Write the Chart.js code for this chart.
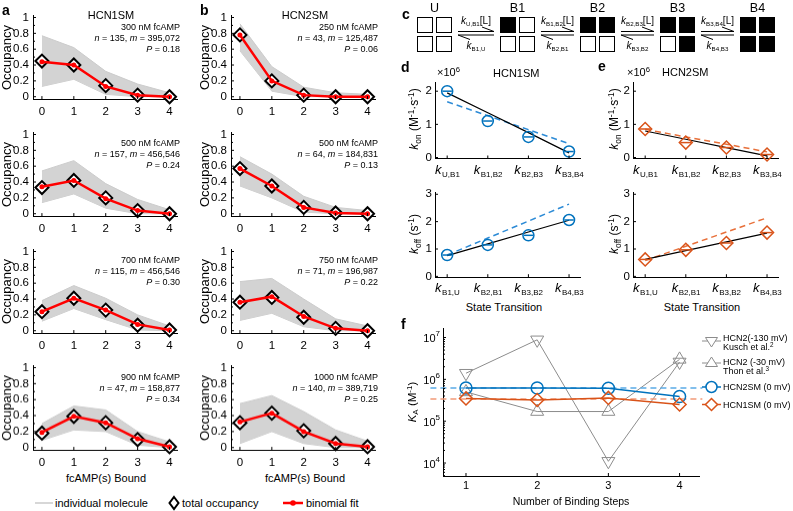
<!DOCTYPE html>
<html>
<head>
<meta charset="utf-8">
<title>HCN fcAMP binding</title>
<script src="https://cdn.jsdelivr.net/npm/chart.js@4.4.1/dist/chart.umd.min.js"></script>
<style>
  body { margin: 0; background: #fff; }
  #fig { position: relative; width: 793px; height: 511px; overflow: hidden;
         font-family: 'Liberation Sans', Arial, Helvetica, sans-serif; color: #000; }
  .box { position: absolute; }
  .t { position: absolute; white-space: nowrap; line-height: 1; }
  .t sub, .t sup { font-size: 70%; line-height: 0; position: relative; vertical-align: baseline; }
  .t sub { top: 0.3em; }
  .t sup { top: -0.5em; }
  .rk sub { font-size: 62%; }
  .lt { font-weight: bold; }
  .note { text-align: right; line-height: 11px; }
  .sq { position: absolute; width: 16px; height: 16px; border: 1px solid #000; box-sizing: border-box; background: #fff; }
  .sq.on { background: #000; }
</style>
</head>
<body>
<div id="fig"></div>
<script>
// ---------- data ----------
var bound = [0, 1, 2, 3, 4];
var occTicks = [0, 0.2, 0.4, 0.6, 0.8, 1];
var occMinor = [0.1, 0.3, 0.5, 0.7, 0.9];

// a: HCN1SM
var concA = ['300', '500', '700', '900'];
var nA = ['135', '157', '115', '47'];
var mA = ['395,072', '456,546', '456,546', '158,877'];
var pA = ['0.18', '0.24', '0.30', '0.34'];
var totalA = [[0.45, 0.40, 0.14, 0.02, 0.00], [0.33, 0.42, 0.20, 0.04, 0.00],
              [0.24, 0.41, 0.26, 0.07, 0.01], [0.18, 0.39, 0.31, 0.10, 0.01]];
var fitA = [[0.44, 0.40, 0.13, 0.02, 0.00], [0.34, 0.42, 0.19, 0.04, 0.00],
            [0.24, 0.41, 0.26, 0.08, 0.01], [0.19, 0.39, 0.31, 0.11, 0.01]];
var hiA = [[0.77, 0.62, 0.32, 0.16, 0.05], [0.54, 0.67, 0.38, 0.18, 0.05],
           [0.38, 0.57, 0.41, 0.20, 0.06], [0.30, 0.52, 0.47, 0.20, 0.07]];
var loA = [[0.13, 0.22, 0.03, 0.00, 0.00], [0.14, 0.25, 0.07, 0.00, 0.00],
           [0.12, 0.28, 0.14, 0.01, 0.00], [0.09, 0.22, 0.20, 0.03, 0.00]];

// b: HCN2SM
var concB = ['250', '500', '750', '1000'];
var nB = ['43', '64', '71', '140'];
var mB = ['125,487', '184,831', '196,987', '389,719'];
var pB = ['0.06', '0.13', '0.22', '0.25'];
var totalB = [[0.78, 0.20, 0.02, 0.00, 0.00], [0.57, 0.35, 0.08, 0.01, 0.00],
              [0.36, 0.42, 0.17, 0.03, 0.00], [0.31, 0.43, 0.21, 0.05, 0.01]];
var fitB = [[0.78, 0.20, 0.02, 0.00, 0.00], [0.57, 0.35, 0.08, 0.01, 0.00],
            [0.36, 0.43, 0.18, 0.03, 0.00], [0.32, 0.43, 0.20, 0.05, 0.01]];
var hiB = [[0.92, 0.38, 0.12, 0.05, 0.03], [0.72, 0.50, 0.22, 0.08, 0.04],
           [0.62, 0.66, 0.40, 0.15, 0.06], [0.55, 0.65, 0.45, 0.22, 0.08]];
var loB = [[0.58, 0.07, 0.00, 0.00, 0.00], [0.35, 0.20, 0.02, 0.00, 0.00],
           [0.13, 0.22, 0.05, 0.00, 0.00], [0.05, 0.20, 0.05, 0.00, 0.00]];

// c-e: rate constants
var stateNames = ['U', 'B1', 'B2', 'B3', 'B4'];
var statePattern = [[0, 0, 0, 0], [1, 0, 0, 0], [1, 1, 0, 0], [1, 1, 0, 1], [1, 1, 1, 1]];
var konLabels = ['U,B1', 'B1,B2', 'B2,B3', 'B3,B4'];
var koffLabels = ['B1,U', 'B2,B1', 'B3,B2', 'B4,B3'];
var stepIdx = [0, 1, 2, 3];
var konHCN1 = [2.00, 1.10, 0.62, 0.18];
var konHCN1Fit = [1.95, 1.35, 0.75, 0.14];
var konHCN1Dash = [1.68, 1.26, 0.84, 0.42];
var koffHCN1 = [0.78, 1.15, 1.50, 2.06];
var koffHCN1Fit = [0.76, 1.19, 1.62, 2.05];
var koffHCN1Dash = [0.78, 1.40, 2.02, 2.64];
var konHCN2 = [0.86, 0.45, 0.30, 0.09];
var konHCN2Fit = [0.80, 0.55, 0.30, 0.05];
var konHCN2Dash = [0.85, 0.62, 0.40, 0.17];
var koffHCN2 = [0.62, 0.97, 1.22, 1.60];
var koffHCN2Fit = [0.62, 0.94, 1.26, 1.58];
var koffHCN2Dash = [0.58, 1.10, 1.62, 2.14];
var konTicks = [0, 1, 2];
var koffTicks = [0, 1, 2, 3];

// f: association constants
var stepsF = [1, 2, 3, 4];
var kuschF = [1.4e6, 8.8e6, 1.1e4, 2.6e6];
var thonF = [5.0e5, 1.7e5, 1.7e5, 3.0e6];
var hcn2smF = [6.2e5, 6.2e5, 6.1e5, 3.9e5];
var hcn1smF = [3.5e5, 3.2e5, 3.6e5, 2.5e5];
var hcn2smMean = 6.2e5;
var hcn1smMean = 3.4e5;
var fDecades = [4, 5, 6, 7];

var blue = '#0072BD', orange = '#D95319', gray = '#8c8c8c';

// ---------- helpers ----------
var fig = document.getElementById('fig');
Chart.defaults.font.family = "'Liberation Sans', Arial, Helvetica, sans-serif";
Chart.defaults.color = '#000';

function put(html, x, y, o) {
  o = o || {};
  var d = document.createElement('div');
  d.className = 't ' + (o.cls || '');
  d.innerHTML = html;
  d.style.left = x + 'px';
  d.style.top = y + 'px';
  if (o.size) d.style.fontSize = o.size + 'px';
  var tx = o.ax === 'c' ? '-50%' : o.ax === 'r' ? '-100%' : '0';
  var ty = o.ay === 't' ? '0' : '-50%';
  d.style.transform = 'translate(' + tx + ',' + ty + ')' + (o.rot ? ' rotate(-90deg)' : '');
  fig.appendChild(d);
  return d;
}

function xyPts(xs, ys) {
  return xs.map(function (x, k) { return { x: x, y: ys[k] }; });
}

function axis(min, max, ticks, o) {
  o = o || {};
  return {
    type: o.log ? 'logarithmic' : 'linear', min: min, max: max,
    grid: { drawOnChartArea: false, drawTicks: false },
    border: { display: true, color: '#000', width: 1 },
    ticks: { display: o.show !== false, color: '#000', font: { size: o.fs || 11.5 },
             padding: o.pad || 4, autoSkip: false, maxRotation: 0,
             callback: function (v) { return String(+Number(v).toFixed(2)); } },
    afterBuildTicks: function (s) { s.ticks = ticks.map(function (v) { return { value: v }; }); },
    title: o.title ? { display: true, text: o.title, font: { size: 13 }, padding: 0, color: '#000' } : { display: false }
  };
}

// inward MATLAB-style tick marks
Chart.register({
  id: 'inTicks',
  afterDatasetsDraw: function (chart, args, o) {
    var ctx = chart.ctx, xs = chart.scales.x, ys = chart.scales.y, a = chart.chartArea;
    ctx.save();
    ctx.strokeStyle = '#000';
    ctx.lineWidth = 1;
    ctx.beginPath();
    xs.ticks.forEach(function (t) {
      var p = xs.getPixelForValue(t.value);
      ctx.moveTo(p, a.bottom); ctx.lineTo(p, a.bottom - 3);
    });
    ys.ticks.forEach(function (t) {
      var p = ys.getPixelForValue(t.value);
      ctx.moveTo(a.left, p); ctx.lineTo(a.left + 3, p);
    });
    (o.minorY || []).forEach(function (v) {
      var p = ys.getPixelForValue(v);
      ctx.moveTo(a.left, p); ctx.lineTo(a.left + 2, p);
    });
    ctx.stroke();
    ctx.restore();
  }
});

// k with subscript tick labels
Chart.register({
  id: 'subTicks',
  afterDraw: function (chart, args, o) {
    if (!o.labels) return;
    var ctx = chart.ctx, xs = chart.scales.x, fam = Chart.defaults.font.family;
    var base = chart.chartArea.bottom + 15;
    ctx.save();
    ctx.fillStyle = '#000';
    ctx.textAlign = 'left';
    ctx.textBaseline = 'alphabetic';
    o.labels.forEach(function (lab, k) {
      var px = xs.getPixelForValue(k);
      ctx.font = 'italic 13px ' + fam;
      var w1 = ctx.measureText('k').width;
      ctx.font = '8px ' + fam;
      var w2 = ctx.measureText(lab).width;
      var x0 = px - (w1 + w2) / 2;
      ctx.font = 'italic 13px ' + fam;
      ctx.fillText('k', x0, base);
      ctx.font = '8px ' + fam;
      ctx.fillText(lab, x0 + w1 + 0.5, base + 3);
    });
    ctx.restore();
  }
});

// 10^n labels on log axis
Chart.register({
  id: 'powTicks',
  afterDraw: function (chart, args, o) {
    if (!o.exps) return;
    var ctx = chart.ctx, ys = chart.scales.y, fam = Chart.defaults.font.family;
    var right = chart.chartArea.left - 3;
    ctx.save();
    ctx.fillStyle = '#000';
    ctx.textAlign = 'left';
    ctx.textBaseline = 'middle';
    o.exps.forEach(function (e) {
      var py = ys.getPixelForValue(Math.pow(10, e));
      ctx.font = '11px ' + fam;
      var w1 = ctx.measureText('10').width;
      ctx.font = '8px ' + fam;
      var w2 = ctx.measureText(String(e)).width;
      ctx.font = '11px ' + fam;
      ctx.fillText('10', right - w1 - w2, py + 1.5);
      ctx.font = '8px ' + fam;
      ctx.fillText(String(e), right - w2, py - 3.5);
    });
    ctx.restore();
  }
});

function makeChart(area, yw, xh, datasets, scales, plug) {
  var pt = 8, pr = 8;
  var left = area[0] - yw, top = area[1] - pt;
  var d = document.createElement('div');
  d.className = 'box';
  d.style.left = left + 'px';
  d.style.top = top + 'px';
  d.style.width = (area[2] - left + pr) + 'px';
  d.style.height = (area[3] - top + xh) + 'px';
  var c = document.createElement('canvas');
  d.appendChild(c);
  fig.appendChild(d);
  scales.x.afterFit = function (s) { s.height = xh; };
  scales.y.afterFit = function (s) { s.width = yw; };
  var plugins = { legend: { display: false }, tooltip: { enabled: false } };
  for (var k in plug) plugins[k] = plug[k];
  return new Chart(c, {
    type: 'line',
    data: { datasets: datasets },
    options: {
      animation: false, responsive: true, maintainAspectRatio: false, events: [],
      layout: { padding: { top: pt, right: pr, left: 0, bottom: 0 } },
      scales: scales, plugins: plugins
    }
  });
}

// ---------- a, b: occupancy ----------
function occSets(hi, lo, tot, fit) {
  return [
    { data: xyPts(bound, hi), borderColor: '#cccccc', borderWidth: 1, pointRadius: 0,
      fill: '+1', backgroundColor: '#d3d3d3', order: 3 },
    { data: xyPts(bound, lo), borderColor: '#cccccc', borderWidth: 1, pointRadius: 0, fill: false, order: 3 },
    { data: xyPts(bound, tot), showLine: false, pointStyle: 'rectRot', pointRadius: 6.5,
      pointBorderWidth: 2, pointBorderColor: '#000', pointBackgroundColor: '#fff', order: 1, clip: false },
    { data: xyPts(bound, fit), borderColor: '#ff0000', borderWidth: 2.5, pointRadius: 2.5,
      pointBorderWidth: 0, pointBackgroundColor: '#ff0000', order: 0, clip: false }
  ];
}

function occChart(left, y1, hi, lo, tot, fit) {
  makeChart([left, y1 - 0.02 * 82, left + 145, y1 + 1.03 * 82], 33, 20,
    occSets(hi, lo, tot, fit),
    { x: axis(-0.28, 4.25, bound, { pad: 6 }),
      y: axis(-0.03, 1.02, occTicks, { title: 'Occupancy' }) },
    { inTicks: { minorY: occMinor } });
}

for (var i = 0; i < 4; i++) {
  var y1 = 15 + 116.7 * i;
  occChart(33, y1, hiA[i], loA[i], totalA[i], fitA[i]);
  occChart(231, y1, hiB[i], loB[i], totalB[i], fitB[i]);
  put(concA[i] + ' nM fcAMP<br><i>n</i> = ' + nA[i] + ', <i>m</i> = ' + mA[i] + '<br><i>P</i> = ' + pA[i],
      180, y1 + 6.5, { ax: 'r', ay: 't', size: 9, cls: 'note' });
  put(concB[i] + ' nM fcAMP<br><i>n</i> = ' + nB[i] + ', <i>m</i> = ' + mB[i] + '<br><i>P</i> = ' + pB[i],
      378, y1 + 6.5, { ax: 'r', ay: 't', size: 9, cls: 'note' });
}
put('a', 2, 10, { size: 14, cls: 'lt' });
put('b', 200, 10, { size: 14, cls: 'lt' });
put('HCN1SM', 111, 15, { ax: 'c', size: 11 });
put('HCN2SM', 305, 15, { ax: 'c', size: 11 });
put('fcAMP(s) Bound', 106, 478, { ax: 'c', size: 11 });
put('fcAMP(s) Bound', 305, 478, { ax: 'c', size: 11 });

// bottom legend
var leg = '<svg class="box" style="left:0;top:493px" width="400" height="20">' +
  '<line x1="35" y1="10" x2="53" y2="10" stroke="#bdbdbd" stroke-width="1.2"/>' +
  '<polygon points="174,4 178.5,10 174,16 169.5,10" fill="#fff" stroke="#000" stroke-width="2"/>' +
  '<line x1="283" y1="10" x2="303" y2="10" stroke="#f00" stroke-width="2.5"/>' +
  '<circle cx="293" cy="10" r="2.8" fill="#f00"/></svg>';
fig.insertAdjacentHTML('beforeend', leg);
put('individual molecule', 55, 503, { size: 11 });
put('total occupancy', 182, 503, { size: 11 });
put('binomial fit', 306, 503, { size: 11 });

// ---------- c: scheme ----------
put('c', 402, 14, { size: 14, cls: 'lt' });
var stateLeft = [417, 500, 580, 660, 740];
stateNames.forEach(function (nm, s) {
  put(nm, stateLeft[s] + 17.5, 8, { ax: 'c', size: 12.5 });
  var offs = [[0, 0], [19, 0], [0, 19], [19, 19]];
  offs.forEach(function (o, q) {
    var sq = document.createElement('div');
    sq.className = 'sq' + (statePattern[s][q] ? ' on' : '');
    sq.style.left = (stateLeft[s] + o[0]) + 'px';
    sq.style.top = (17 + o[1]) + 'px';
    fig.appendChild(sq);
  });
});
var arr = '<svg class="box" style="left:0;top:0" width="793" height="60"><g stroke="#000" stroke-width="1" fill="none">';
for (var s = 0; s < 4; s++) {
  var x1 = stateLeft[s] + 41, x2 = stateLeft[s + 1] - 6;
  arr += '<path d="M' + x1 + ' 31.5H' + x2 + 'L' + (x2 - 12) + ' 27"/>';
  arr += '<path d="M' + x2 + ' 35H' + x1 + 'L' + (x1 + 12) + ' 39.5"/>';
  put('<i>k</i><sub>' + konLabels[s] + '</sub>[L]', (x1 + x2) / 2, 21, { ax: 'c', size: 10, cls: 'rk' });
  put('<i>k</i><sub>' + koffLabels[s] + '</sub>', (x1 + x2) / 2, 46, { ax: 'c', size: 10, cls: 'rk' });
}
arr += '</g></svg>';
fig.insertAdjacentHTML('beforeend', arr);

// ---------- d, e: rates ----------
function rateSets(vals, fit, dash, color, dashColor, style, r) {
  return [
    { data: xyPts(stepIdx, dash), borderColor: dashColor, borderWidth: 1.5, borderDash: [6, 4], pointRadius: 0, order: 3 },
    { data: xyPts(stepIdx, fit), borderColor: '#000', borderWidth: 1.2, pointRadius: 0, order: 2 },
    { data: xyPts(stepIdx, vals), showLine: false, pointStyle: style, pointRadius: r, pointBorderWidth: 1.5,
      pointBorderColor: color, pointBackgroundColor: 'rgba(0,0,0,0)', order: 1, clip: false },
    { data: xyPts(stepIdx, vals), showLine: false, pointStyle: 'line', pointRadius: r * 0.85, pointBorderWidth: 1.5,
      pointBorderColor: color, order: 0, clip: false }
  ];
}

function rateChart(left, top, bottom, max, ticks, sets, labels) {
  makeChart([left, top, left + 145, bottom], 20, 22, sets,
    { x: axis(-0.3, 3.27, stepIdx, { show: false }),
      y: axis(-0.03, max, ticks, { pad: 3 }) },
    { subTicks: { labels: labels } });
}

rateChart(435, 157 - 2.25 * 34, 158, 2.25, konTicks,
  rateSets(konHCN1, konHCN1Fit, konHCN1Dash, blue, '#2d8bd6', 'circle', 5.5), konLabels);
rateChart(435, 276 - 3.05 * 28, 276.8, 3.05, koffTicks,
  rateSets(koffHCN1, koffHCN1Fit, koffHCN1Dash, blue, '#2d8bd6', 'circle', 5.5), koffLabels);
rateChart(633, 157 - 2.25 * 34, 158, 2.25, konTicks,
  rateSets(konHCN2, konHCN2Fit, konHCN2Dash, orange, '#e8703a', 'rectRot', 6.5), konLabels);
rateChart(633, 276 - 3.05 * 28, 276.8, 3.05, koffTicks,
  rateSets(koffHCN2, koffHCN2Fit, koffHCN2Dash, orange, '#e8703a', 'rectRot', 6.5), koffLabels);

put('d', 401, 67, { size: 14, cls: 'lt' });
put('e', 598, 66, { size: 14, cls: 'lt' });
put('×10<sup>6</sup>', 437, 72, { size: 11 });
put('×10<sup>6</sup>', 627, 72, { size: 11 });
put('HCN1SM', 493, 73, { size: 11 });
put('HCN2SM', 662, 72, { size: 11 });
var konTitle = '<i>k</i><sub>on</sub> (M<sup>-1</sup>·s<sup>-1</sup>)';
var koffTitle = '<i>k</i><sub>off</sub> (s<sup>-1</sup>)';
put(konTitle, 414, 119, { ax: 'c', rot: true, size: 12 });
put(koffTitle, 414, 234, { ax: 'c', rot: true, size: 12 });
put(konTitle, 614, 119, { ax: 'c', rot: true, size: 12 });
put(koffTitle, 614, 234, { ax: 'c', rot: true, size: 12 });
put('State Transition', 504, 307, { ax: 'c', size: 11 });
put('State Transition', 702, 307, { ax: 'c', size: 11 });

// ---------- f: K_A ----------
var minorF = [];
for (var e = 3; e <= 7; e++) {
  for (var m = 2; m <= 9; m++) {
    var v = m * Math.pow(10, e);
    if (v > 4900 && v < 1.6e7) minorF.push(v);
  }
}
var hollow = 'rgba(0,0,0,0)';
makeChart([443, 328, 700, 476], 40, 30, [
  { data: xyPts(stepsF, kuschF), borderColor: gray, borderWidth: 1, pointStyle: 'triangle', pointRotation: 180,
    pointRadius: 7.5, pointBorderWidth: 1, pointBorderColor: gray, pointBackgroundColor: hollow, order: 5, clip: false },
  { data: xyPts(stepsF, thonF), borderColor: gray, borderWidth: 1, pointStyle: 'triangle',
    pointRadius: 7.5, pointBorderWidth: 1, pointBorderColor: gray, pointBackgroundColor: hollow, order: 4, clip: false },
  { data: [{ x: 0.5, y: hcn2smMean }, { x: 4.32, y: hcn2smMean }], borderColor: '#5aaae6', borderWidth: 1.5,
    borderDash: [6, 4], pointRadius: 0, order: 3, clip: false },
  { data: [{ x: 0.5, y: hcn1smMean }, { x: 4.32, y: hcn1smMean }], borderColor: '#f29a78', borderWidth: 1.5,
    borderDash: [6, 4], pointRadius: 0, order: 3, clip: false },
  { data: xyPts(stepsF, hcn2smF), borderColor: blue, borderWidth: 1.5, pointStyle: 'circle', pointRadius: 6,
    pointBorderWidth: 1.5, pointBorderColor: blue, pointBackgroundColor: hollow, order: 1, clip: false },
  { data: xyPts(stepsF, hcn1smF), borderColor: orange, borderWidth: 1.5, pointStyle: 'rectRot', pointRadius: 6.5,
    pointBorderWidth: 1.5, pointBorderColor: orange, pointBackgroundColor: hollow, order: 0, clip: false }
], {
  x: axis(0.677, 4.28, stepsF, { fs: 11, pad: 3 }),
  y: axis(4900, 1.64e7, fDecades.map(function (k) { return Math.pow(10, k); }), { log: true, show: false })
}, { inTicks: { minorY: minorF }, powTicks: { exps: fDecades } });

put('f', 401, 324, { size: 14, cls: 'lt' });
put('<i>K</i><sub>A</sub> (M<sup>-1</sup>)', 413, 402, { ax: 'c', rot: true, size: 11.5 });
put('Number of Binding Steps', 571, 501, { ax: 'c', size: 10.5 });

var fl = '<svg class="box" style="left:700px;top:330px" width="26" height="85">' +
  '<g fill="none" stroke-width="1">' +
  '<line x1="2" y1="11" x2="21" y2="11" stroke="' + gray + '"/>' +
  '<polygon points="5.5,7.5 17.5,7.5 11.5,17" stroke="' + gray + '" fill="#fff"/>' +
  '<line x1="2" y1="33" x2="21" y2="33" stroke="' + gray + '"/>' +
  '<polygon points="5.5,36.5 17.5,36.5 11.5,27" stroke="' + gray + '" fill="#fff"/>' +
  '<line x1="2" y1="57" x2="21" y2="57" stroke="' + blue + '" stroke-width="1.5"/>' +
  '<circle cx="11.5" cy="57" r="5.5" stroke="' + blue + '" stroke-width="1.5" fill="#fff"/>' +
  '<line x1="2" y1="74.5" x2="21" y2="74.5" stroke="' + orange + '" stroke-width="1.5"/>' +
  '<polygon points="11.5,68.5 17.5,74.5 11.5,80.5 5.5,74.5" stroke="' + orange + '" stroke-width="1.5" fill="#fff"/>' +
  '</g></svg>';
fig.insertAdjacentHTML('beforeend', fl);
put('HCN2(-130 mV)', 723, 338, { size: 9 });
put('Kusch et al.<sup>2</sup>', 723, 347, { size: 9 });
put('HCN2 (-30 mV)', 723, 361.5, { size: 9 });
put('Thon et al.<sup>3</sup>', 723, 371, { size: 9 });
put('HCN2SM (0 mV)', 723, 387, { size: 9 });
put('HCN1SM (0 mV)', 723, 404.5, { size: 9 });
</script>
</body>
</html>
